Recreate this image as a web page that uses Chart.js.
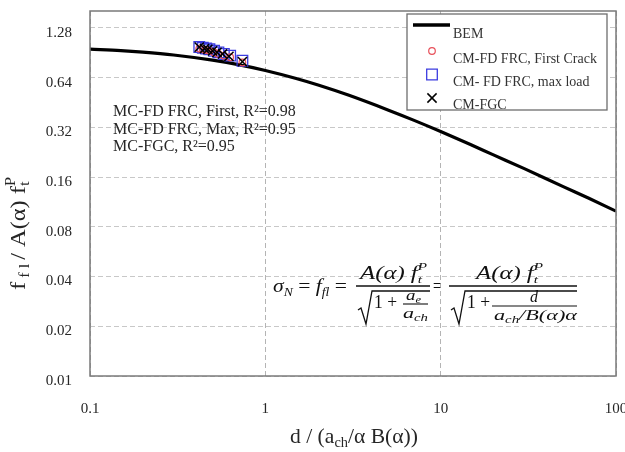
<!DOCTYPE html>
<html>
<head>
<meta charset="utf-8">
<script src="https://cdn.jsdelivr.net/npm/chart.js@4.4.1/dist/chart.umd.min.js"></script>
<style>
  body { margin: 0; background: #fff; }
  #wrap { width: 625px; height: 452px; }
</style>
</head>
<body>
<div id="wrap"><canvas id="chart" width="625" height="452"></canvas></div>
<script>
// BEM curve
const bemX = [0.1, 0.15, 0.2, 0.3, 0.5, 0.7, 1, 1.5, 2, 3, 5, 7, 10, 15, 20, 30, 50, 70, 100];
const bemY = [0.953, 0.933, 0.913, 0.877, 0.816, 0.767, 0.707, 0.632, 0.577, 0.500, 0.408, 0.354, 0.302, 0.250, 0.218, 0.180, 0.140, 0.119, 0.0995];

// test points (first crack, max load, FGC)
const firstX = [0.42, 0.44, 0.46, 0.48, 0.51, 0.54, 0.58, 0.63, 0.74];
const firstY = [0.96, 0.95, 0.94, 0.93, 0.91, 0.89, 0.87, 0.85, 0.79];
const maxX = [0.42, 0.44, 0.46, 0.48, 0.51, 0.54, 0.58, 0.63, 0.74];
const maxY = [0.98, 0.97, 0.96, 0.95, 0.93, 0.91, 0.89, 0.87, 0.81];
const fgcX = [0.42, 0.45, 0.47, 0.50, 0.53, 0.57, 0.62, 0.74];
const fgcY = [0.98, 0.96, 0.95, 0.93, 0.91, 0.89, 0.86, 0.80];

const xTicks = [0.1, 1, 10, 100];
const xTickLabels = ['0.1', '1', '10', '100'];
const yTicks = [0.01, 0.02, 0.04, 0.08, 0.16, 0.32, 0.64, 1.28];
const yTickLabels = ['0.01', '0.02', '0.04', '0.08', '0.16', '0.32', '0.64', '1.28'];

const fitNotes = ['MC-FD FRC, First, R\u00b2=0.98', 'MC-FD FRC, Max, R\u00b2=0.95', 'MC-FGC, R\u00b2=0.95'];

const FAM = '"Liberation Serif", "Times New Roman", serif';
const TXT = '#262626';

function pts(xs, ys) {
    return xs.map((x, i) => ({ x: x, y: ys[i] }));
}

function fnt(p) {
    return (p.i ? 'italic ' : '') + p.s + 'px ' + FAM;
}

// width of a run of text pieces (sub/superscripts etc)
function runWidth(ctx, parts) {
    let w = 0;
    parts.forEach(p => {
        ctx.font = fnt(p);
        let pw = ctx.measureText(p.t).width;
        if (p.sup) pw = Math.max(pw, ctx.measureText(p.sup).width);
        w += pw;
    });
    return w;
}

function drawRun(ctx, parts, x, y) {
    parts.forEach(p => {
        ctx.font = fnt(p);
        ctx.fillText(p.t, x, y + (p.dy || 0));
        let pw = ctx.measureText(p.t).width;
        if (p.sup) {
            ctx.fillText(p.sup, x, y + p.supDy);
            pw = Math.max(pw, ctx.measureText(p.sup).width);
        }
        x += pw;
    });
    return x;
}

function drawRunC(ctx, parts, cx, y) {
    drawRun(ctx, parts, cx - runWidth(ctx, parts) / 2, y);
}

// stretch a run so it spans x0..x1 (the original uses a wider math font)
function drawFit(ctx, parts, x0, x1, y) {
    const w = runWidth(ctx, parts);
    ctx.save();
    ctx.translate(x0, y);
    ctx.scale((x1 - x0) / w, 1);
    drawRun(ctx, parts, 0, 0);
    ctx.restore();
}

function line(ctx, coords, w) {
    ctx.beginPath();
    ctx.moveTo(coords[0][0], coords[0][1]);
    for (let i = 1; i < coords.length; i++) ctx.lineTo(coords[i][0], coords[i][1]);
    ctx.lineWidth = w;
    ctx.stroke();
}

const decor = {
    id: 'decor',
    afterDraw(chart) {
        const ctx = chart.ctx;
        const a = chart.chartArea;
        ctx.save();

        // plot frame
        ctx.strokeStyle = '#7a7a7a';
        ctx.lineWidth = 1.5;
        ctx.strokeRect(a.left, a.top, a.right - a.left, a.bottom - a.top);

        ctx.fillStyle = TXT;
        ctx.strokeStyle = TXT;
        ctx.textAlign = 'left';
        ctx.textBaseline = 'alphabetic';

        // axis titles
        drawFit(ctx, [
            { t: 'd / (a', s: 21 },
            { t: 'ch', s: 14, dy: 4 },
            { t: '/\u03b1 B(\u03b1))', s: 21 }
        ], 290, 418, 443);

        ctx.save();
        ctx.translate(25, 0);
        ctx.rotate(-Math.PI / 2);
        drawFit(ctx, [
            { t: 'f', s: 21 },
            { t: ' f l ', s: 14, dy: 4 },
            { t: '/ A(\u03b1) f', s: 21 },
            { t: 't', s: 14, dy: 4, sup: 'P', supDy: -10 }
        ], -290, -177, 0);
        ctx.restore();

        // regression notes
        ctx.font = '16px ' + FAM;
        fitNotes.forEach((s, i) => ctx.fillText(s, 113, 116 + i * 17.5));

        // formula
        ctx.fillStyle = '#111';
        ctx.strokeStyle = '#111';
        drawFit(ctx, [
            { t: '\u03c3', s: 19, i: true },
            { t: 'N', s: 12, i: true, dy: 4 },
            { t: ' = ', s: 19 },
            { t: 'f', s: 19, i: true },
            { t: 'fl', s: 12, i: true, dy: 4 },
            { t: ' =', s: 19 }
        ], 273, 347, 292);
        const numer = [
            { t: 'A(\u03b1) ', s: 18, i: true },
            { t: 'f', s: 18, i: true },
            { t: 't', s: 11, i: true, dy: 4, sup: 'P', supDy: -9 }
        ];
        drawFit(ctx, numer, 360, 427, 279);
        line(ctx, [[356, 286], [430, 286]], 1.3);
        line(ctx, [[358, 310], [361, 308], [366, 324], [372, 291], [430, 291]], 1.3);
        drawFit(ctx, [{ t: '1 +', s: 18 }], 374, 397, 308);
        drawFit(ctx, [{ t: 'a', s: 15, i: true }, { t: 'e', s: 10, i: true, dy: 3 }], 406, 421, 300);
        line(ctx, [[403, 304], [428, 304]], 1.1);
        drawFit(ctx, [{ t: 'a', s: 15, i: true }, { t: 'ch', s: 10, i: true, dy: 3 }], 403, 428, 318);

        drawFit(ctx, [{ t: '=', s: 19 }], 433, 441, 292);
        drawFit(ctx, numer, 476, 543, 279);
        line(ctx, [[449, 286], [577, 286]], 1.3);
        line(ctx, [[451, 310], [454, 308], [459, 324], [465, 291], [577, 291]], 1.3);
        drawFit(ctx, [{ t: '1 +', s: 18 }], 467, 490, 308);
        drawRunC(ctx, [{ t: 'd', s: 16, i: true }], 534, 302);
        line(ctx, [[492, 306], [577, 306]], 1.1);
        drawFit(ctx, [
            { t: 'a', s: 15, i: true },
            { t: 'ch', s: 10, i: true, dy: 3 },
            { t: '/B(\u03b1)\u03b1', s: 15, i: true }
        ], 494, 577, 320);

        // legend box inside the plot
        const lx = 407, ly = 14, lw = 200, lh = 96;
        ctx.fillStyle = '#fff';
        ctx.fillRect(lx, ly, lw, lh);
        ctx.strokeStyle = '#6e6e6e';
        ctx.lineWidth = 1.3;
        ctx.strokeRect(lx, ly, lw, lh);

        ctx.save();
        ctx.beginPath();
        ctx.rect(lx, ly, lw, lh);
        ctx.clip();
        const ds = chart.data.datasets;
        ctx.font = '14px ' + FAM;
        ctx.fillStyle = '#333';
        ctx.strokeStyle = '#000';
        line(ctx, [[413, 25], [450, 25]], 3.5);
        ctx.fillText(ds[0].label, 453, 38);
        [1, 2, 3].forEach((k, j) => {
            const d = ds[k];
            const cy = 51 + j * 23.5;
            ctx.strokeStyle = d.borderColor;
            ctx.fillStyle = 'rgba(0,0,0,0)';
            ctx.lineWidth = d.borderWidth;
            Chart.helpers.drawPoint(ctx, {
                pointStyle: d.pointStyle,
                radius: d.pointRadius,
                rotation: 0,
                borderWidth: d.borderWidth
            }, 432, cy);
            ctx.fillStyle = '#333';
            ctx.fillText(d.label, 453, 63 + j * 23);
        });
        ctx.restore();

        ctx.restore();
    }
};

new Chart(document.getElementById('chart'), {
    type: 'scatter',
    data: {
        datasets: [
            {
                label: 'BEM',
                data: pts(bemX, bemY),
                showLine: true,
                borderColor: '#000',
                borderWidth: 3.2,
                pointRadius: 0,
                cubicInterpolationMode: 'monotone',
                order: 4,
            },
            {
                label: 'CM-FD FRC, First Crack',
                data: pts(firstX, firstY),
                pointStyle: 'circle',
                pointRadius: 3.3,
                borderColor: '#e8505a',
                backgroundColor: 'transparent',
                borderWidth: 1.2,
                order: 2,
            },
            {
                label: 'CM- FD FRC, max load',
                data: pts(maxX, maxY),
                pointStyle: 'rect',
                pointRadius: 7.5,
                borderColor: '#3c3ce0',
                backgroundColor: 'transparent',
                borderWidth: 1.3,
                order: 3,
            },
            {
                label: 'CM-FGC',
                data: pts(fgcX, fgcY),
                pointStyle: 'crossRot',
                pointRadius: 6.5,
                borderColor: '#000',
                borderWidth: 1.5,
                order: 1,
            },
        ],
    },
    options: {
        responsive: false,
        animation: false,
        layout: { padding: { left: 0, right: 9, top: 11, bottom: 0 } },
        plugins: {
            legend: { display: false },
            tooltip: { enabled: false },
        },
        scales: {
            x: {
                type: 'logarithmic',
                min: 0.1,
                max: 100,
                afterBuildTicks: s => { s.ticks = xTicks.map(v => ({ value: v })); },
                afterFit: s => {
                    s.height = 76;
                    s.paddingLeft = 0;
                    s.paddingRight = 0;
                },
                ticks: {
                    autoSkip: false,
                    maxRotation: 0,
                    padding: 24,
                    color: TXT,
                    font: { family: FAM, size: 15 },
                    callback: (v) => xTickLabels[xTicks.indexOf(v)],
                },
                grid: { color: '#b4b4b4', lineWidth: 1, drawTicks: false },
                border: { display: false, dash: [5, 3] },
            },
            y: {
                type: 'logarithmic',
                min: 0.01,
                max: 1.62,
                afterBuildTicks: s => { s.ticks = yTicks.map(v => ({ value: v })); },
                afterFit: s => {
                    s.width = 90;
                    s.paddingTop = 0;
                    s.paddingBottom = 0;
                },
                ticks: {
                    autoSkip: false,
                    padding: 18,
                    labelOffset: 5,
                    color: TXT,
                    font: { family: FAM, size: 15 },
                    callback: (v) => yTickLabels[yTicks.indexOf(v)],
                },
                grid: { color: '#c8c8c8', lineWidth: 1, drawTicks: false },
                border: { display: false, dash: [5, 3] },
            },
        },
    },
    plugins: [decor],
});
</script>
</body>
</html>
